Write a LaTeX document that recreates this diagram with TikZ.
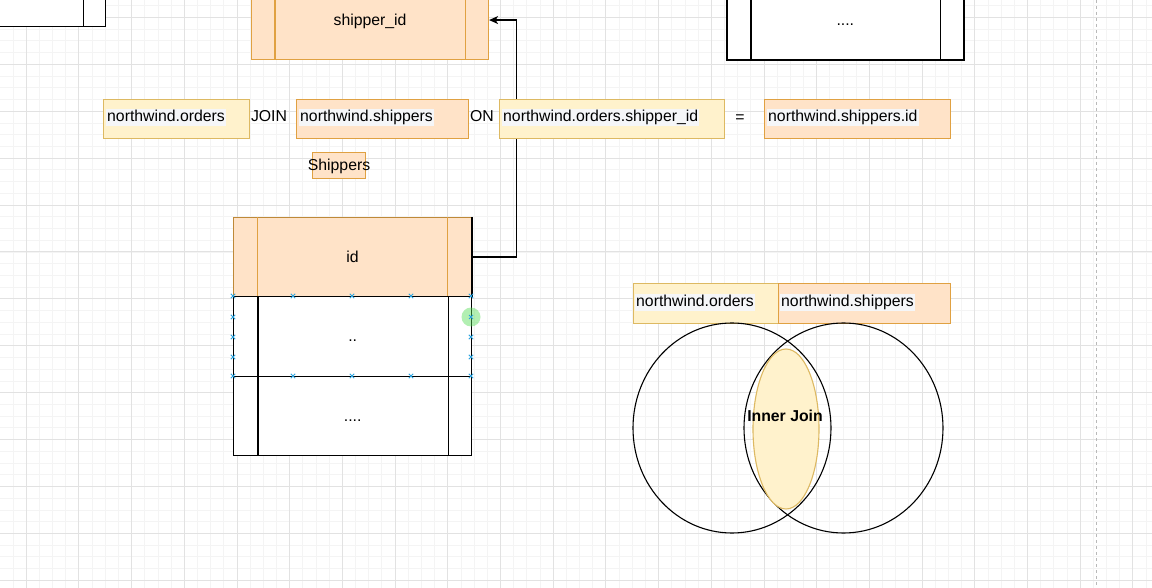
\documentclass[tikz,border=0pt]{standalone}
\usepackage{fontspec}
\setmainfont{Liberation Sans}
\usetikzlibrary{arrows.meta,shapes.geometric}
\definecolor{yfill}{HTML}{FFF2CC}
\definecolor{ydraw}{HTML}{DDB962}
\definecolor{pfill}{HTML}{FFE3C8}
\definecolor{pdraw}{HTML}{E0A142}
\definecolor{gmaj}{HTML}{E2E2E2}
\definecolor{gmin}{HTML}{F4F4F4}
\definecolor{hlc}{HTML}{F5F6F8}
\definecolor{selb}{HTML}{29A3E0}
\definecolor{selg}{HTML}{55DD55}
\begin{document}
\begin{tikzpicture}[x=1pt,y=-1pt,
  font=\fontsize{15.8}{18}\selectfont,
  box/.style={rectangle, inner sep=0pt, anchor=north west},
  ybox/.style={box, fill=yfill, draw=ydraw, line width=1.1pt},
  pbox/.style={box, fill=pfill, draw=pdraw, line width=1.1pt},
  wbox/.style={box, fill=white, draw=black, line width=1.3pt},
  lbl/.style={inner sep=0pt, text height=12pt, text depth=2pt},
  hl/.style={fill=hlc, inner sep=1pt, text height=11.5pt, text depth=3.5pt, anchor=west},
  pline/.style={draw=pdraw, line width=1.1pt},
  kline/.style={draw=black, line width=1.3pt},
  conn/.style={draw=black, line width=1.2pt, -{Stealth[length=9pt,width=8pt,inset=2.5pt]}},
  venn/.style={ellipse, draw=black, line width=1.1pt, inner sep=0pt},
  selx/.style={draw=selb, line width=0.9pt}
]
\useasboundingbox (0,0) rectangle (1152,588);
\fill[white] (0,0) rectangle (1152,588);
% grid
\foreach \i in {-2,...,86} \draw[gmin, line width=0.5pt] ({26+13.175*\i},0) -- ({26+13.175*\i},588);
\foreach \i in {-2,...,49} \draw[gmin, line width=0.5pt] (0,{17.3+11.725*\i}) -- (1152,{17.3+11.725*\i});
\foreach \i in {-1,...,21} \draw[gmaj, line width=0.6pt] ({26+52.7*\i},0) -- ({26+52.7*\i},588);
\foreach \i in {-1,...,12} \draw[gmaj, line width=0.6pt] (0,{17.3+46.9*\i}) -- (1152,{17.3+46.9*\i});
% page break line
\draw[gray!55, dashed, line width=1pt] (1096,0) -- (1096,588);

% top-left partial table
\node[wbox, minimum width=130pt, minimum height=46pt] (tl) at (-25,-20) {};
\draw[kline] ([xshift=-23pt]tl.north east) -- ([xshift=-23pt]tl.south east);

% shipper_id row
\node[pbox, minimum width=237pt, minimum height=79pt] (sh) at (251,-20) {};
\draw[pline] ([xshift=24pt]sh.north west) -- ([xshift=24pt]sh.south west);
\draw[pline] ([xshift=-24pt]sh.north east) -- ([xshift=-24pt]sh.south east);
\node[lbl] (shT) at (sh.center) {shipper\_id};

% top-right table row
\node[wbox, line width=1.6pt, minimum width=237pt, minimum height=79pt] (tr) at (726,-20) {};
\draw[kline] ([xshift=25pt]tr.north west) -- ([xshift=25pt]tr.south west);
\draw[kline] ([xshift=-24pt]tr.north east) -- ([xshift=-24pt]tr.south east);
\node[lbl] (trT) at (tr.center) {....};

% id table
\node[pbox, draw=pdraw!85!black, minimum width=238pt, minimum height=79pt] (idh) at (233,217) {};
\draw[pline] ([xshift=24.5pt]idh.north west) -- ([xshift=24.5pt]idh.south west);
\draw[pline] ([xshift=-24.5pt]idh.north east) -- ([xshift=-24.5pt]idh.south east);
\draw[kline] (idh.north east) -- (idh.south east);
\node[lbl] (idT) at (idh.center) {id};
\node[wbox, minimum width=238pt, minimum height=80pt] (r2) at (233,296) {};
\draw[kline] ([xshift=25pt]r2.north west) -- ([xshift=25pt]r2.south west);
\draw[kline] ([xshift=-24pt]r2.north east) -- ([xshift=-24pt]r2.south east);
\node[lbl] (r2T) at (r2.center) {..};
\node[wbox, minimum width=238pt, minimum height=79pt] (r3) at (233,376) {};
\draw[kline] ([xshift=25pt]r3.north west) -- ([xshift=25pt]r3.south west);
\draw[kline] ([xshift=-24pt]r3.north east) -- ([xshift=-24pt]r3.south east);
\node[lbl] (r3T) at (r3.center) {....};

% connector
\draw[conn] (idh.east) -- ++(44,0) |- (sh.east);

% selection handles
\foreach \x/\y in {233/296,293/296,352/296,411/296,471/296,233/376,293/376,352/376,411/376,471/376,233/317,233/337,233/357,471/337,471/357}
  \draw[selx] (\x-2.2,\y-2.2) -- (\x+2.2,\y+2.2) (\x-2.2,\y+2.2) -- (\x+2.2,\y-2.2);
\fill[selg, opacity=0.45] (471,317) circle[radius=9.5];
\draw[selx] (469,315) -- (473,319) (469,319) -- (473,315);

% SQL row
\node[ybox, minimum width=146pt, minimum height=39pt] (b1) at (103,99) {};
\node[hl] (b1T) at ([xshift=3pt,yshift=1.5pt]b1.west) {northwind.orders};
\node[lbl] (join) at (269,117) {JOIN};
\node[pbox, minimum width=172pt, minimum height=39pt] (b2) at (296,99) {};
\node[hl] (b2T) at ([xshift=3pt,yshift=1.5pt]b2.west) {northwind.shippers};
\node[lbl] (on) at (482,117) {ON};
\node[ybox, minimum width=225pt, minimum height=39pt] (b3) at (499,99) {};
\node[hl] (b3T) at ([xshift=3pt,yshift=1.5pt]b3.west) {northwind.orders.shipper\_id};
\node[lbl] (eq) at (740,118) {=};
\node[pbox, minimum width=186pt, minimum height=39pt] (b4) at (764,99) {};
\node[hl] (b4T) at ([xshift=3pt,yshift=1.5pt]b4.west) {northwind.shippers.id};

\node[pbox, minimum width=53pt, minimum height=26pt] (shp) at (312,152) {};
\node[lbl] (shpT) at (shp.center) {Shippers};

% Venn
\node[ybox, minimum width=145pt, minimum height=40pt] (v1) at (633,283) {};
\node[hl] (v1T) at ([xshift=2pt,yshift=1.5pt]v1.west) {northwind.orders};
\node[pbox, minimum width=172pt, minimum height=40pt] (v2) at (778,283) {};
\node[hl] (v2T) at ([xshift=2pt,yshift=1.5pt]v2.west) {northwind.shippers};
\node[venn, minimum width=198pt, minimum height=210pt] (cl) at (732,428) {};
\node[venn, minimum width=199pt, minimum height=210pt] (cr) at (843.5,428) {};
\node[ellipse, fill=yfill, draw=ydraw, line width=1.1pt, inner sep=0pt, minimum width=66pt, minimum height=160pt] (lens) at (786,429) {};
\node[lbl, font=\bfseries\fontsize{15.8}{18}\selectfont] (ij) at (785,416) {Inner Join};
\end{tikzpicture}
\end{document}
